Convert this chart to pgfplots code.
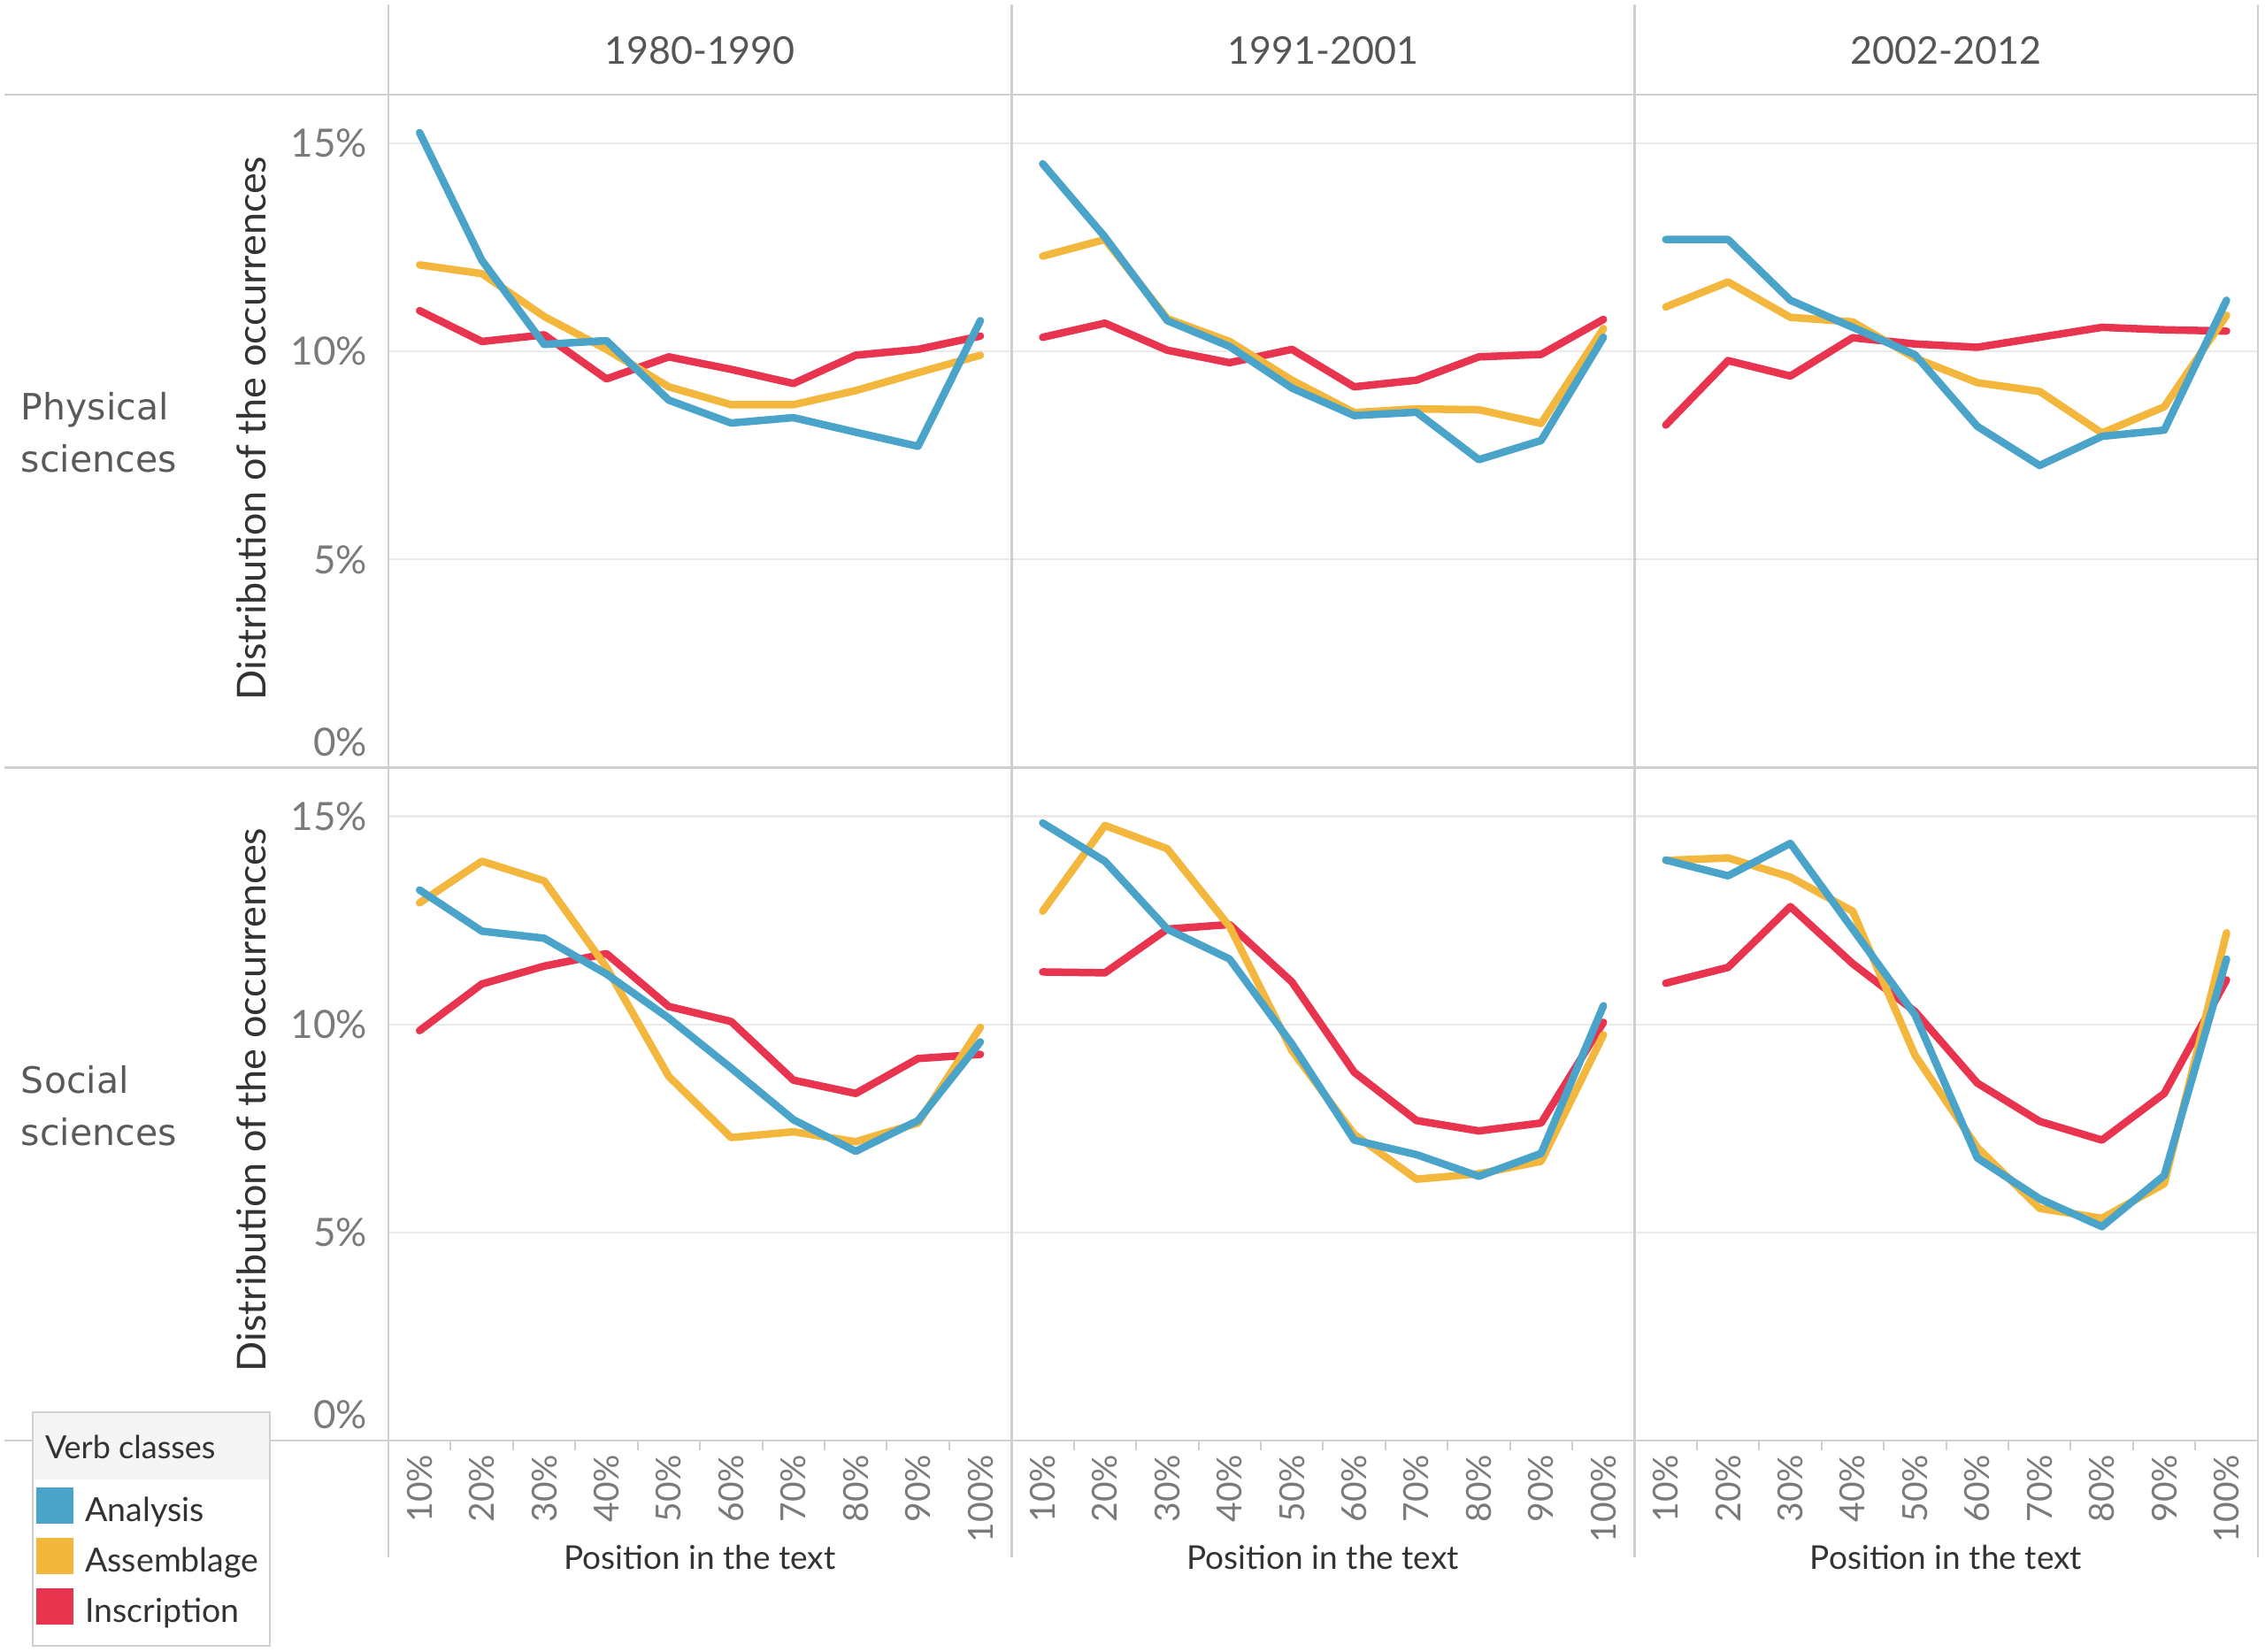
\documentclass[border=0pt]{standalone}
\usepackage{pgfplots}
\pgfplotsset{compat=1.18}
\usepackage{pgfplotstable}
\usepackage{fontspec}
\setmainfont{Lato}
\newfontfamily\rowfont{DejaVu Sans}

\definecolor{cA}{HTML}{4AA3C8}
\definecolor{cS}{HTML}{F4B73E}
\definecolor{cI}{HTML}{E8344E}
\definecolor{framec}{HTML}{D0D0D0}
\definecolor{gridc}{HTML}{EBEBEB}
\definecolor{tickc}{HTML}{7A7A7A}
\definecolor{headc}{HTML}{555555}
\definecolor{rowc}{HTML}{5A5A5A}
\definecolor{titc}{HTML}{333333}

% x = position (1 = 10%, ..., 10 = 100%); A = Analysis, S = Assemblage, I = Inscription
\pgfplotstableread{
x A S I
1 15.26 12.08 10.98
2 12.19 11.87 10.24
3 10.17 10.84 10.40
4 10.26 10.05 9.34
5 8.83 9.15 9.87
6 8.28 8.72 9.57
7 8.41 8.72 9.23
8 8.06 9.06 9.91
9 7.72 9.49 10.05
10 10.74 9.91 10.37
}\PA
\pgfplotstableread{
x A S I
1 14.51 12.29 10.34
2 12.75 12.69 10.68
3 10.74 10.79 10.03
4 10.12 10.24 9.73
5 9.12 9.31 10.05
6 8.46 8.53 9.15
7 8.54 8.62 9.31
8 7.40 8.60 9.87
9 7.86 8.27 9.93
10 10.34 10.55 10.77
}\PB
\pgfplotstableread{
x A S I
1 12.69 11.07 8.23
2 12.69 11.67 9.78
3 11.23 10.82 9.41
4 10.58 10.71 10.33
5 9.92 9.84 10.18
6 8.20 9.25 10.10
7 7.26 9.04 10.34
8 7.96 8.04 10.58
9 8.11 8.67 10.52
10 11.23 10.87 10.49
}\PC
\pgfplotstableread{
x A S I
1 13.23 12.92 9.85
2 12.24 13.92 10.97
3 12.07 13.45 11.40
4 11.21 11.37 11.70
5 10.15 8.75 10.43
6 8.95 7.28 10.07
7 7.71 7.42 8.66
8 6.95 7.18 8.34
9 7.69 7.63 9.18
10 9.58 9.93 9.28
}\SA
\pgfplotstableread{
x A S I
1 14.84 12.72 11.26
2 13.92 14.78 11.24
3 12.29 14.22 12.29
4 11.57 12.35 12.40
5 9.53 9.37 11.02
6 7.22 7.36 8.85
7 6.87 6.28 7.69
8 6.35 6.41 7.44
9 6.90 6.71 7.63
10 10.45 9.75 10.05
}\SB
\pgfplotstableread{
x A S I
1 13.95 13.94 10.99
2 13.57 14.00 11.37
3 14.35 13.54 12.83
4 12.29 12.72 11.46
5 10.23 9.26 10.31
6 6.79 7.04 8.59
7 5.81 5.58 7.67
8 5.14 5.34 7.22
9 6.37 6.17 8.34
10 11.57 12.20 11.07
}\SC

\pgfplotsset{
  panel/.style={
    scale only axis, width=140.85pt, height=152.1pt,
    xmin=0.5, xmax=10.5, ymin=0, ymax=16.17,
    axis line style={framec, line width=0.5pt},
    ytick={5,10,15}, yticklabels={},
    xtick={1,...,10}, xticklabels={},
    ymajorgrids, grid style={gridc, line width=0.45pt},
    major tick length=0pt, tick align=outside,
    xtick pos=bottom, ytick pos=left,
    every axis plot/.append style={line width=1.7pt, line join=round, line cap=round, mark=none},
  },
  leftcol/.style={
    yticklabels={5\%,10\%,15\%},
    extra y ticks={0.62}, extra y tick labels={0\%},
    extra tick style={grid=none, major tick length=0pt},
    yticklabel style={font=\fontsize{8.8}{10}\selectfont, text=tickc, anchor=east, inner xsep=4.6pt, inner ysep=0pt},
  },
  bottomrow/.style={
    xticklabels={10\%,20\%,30\%,40\%,50\%,60\%,70\%,80\%,90\%,100\%},
    xticklabel style={font=\fontsize{7.8}{9}\selectfont, text=tickc, rotate=90, anchor=east, inner xsep=3pt, inner ysep=0pt},
    minor xtick={1.5,2.5,...,9.5}, minor tick length=2.2pt,
    minor tick style={framec, line width=0.4pt},
  },
}

\newcommand{\threelines}[1]{%
  \addplot[cI] table[x=x, y=I] {#1};
  \addplot[cS] table[x=x, y=S] {#1};
  \addplot[cA] table[x=x, y=A] {#1};
}

\begin{document}
\begin{tikzpicture}
\useasboundingbox (0pt,0pt) rectangle (512pt,-373.2pt);

% separators
\draw[framec, line width=0.5pt] (1pt,-21.4pt) -- (510.6pt,-21.4pt);
\draw[framec, line width=0.5pt] (1pt,-173.5pt) -- (510.6pt,-173.5pt);
\draw[framec, line width=0.5pt] (1pt,-325.6pt) -- (510.6pt,-325.6pt);
\foreach \xx in {87.8,228.65,369.5,510.35}{
  \draw[framec, line width=0.5pt] (\xx pt,-1pt) -- (\xx pt,-352pt);
}

% column headers
\foreach \xx/\tt in {158.2/1980-1990, 299.05/1991-2001, 439.9/2002-2012}{
  \node[font=\fontsize{8.6}{10}\selectfont, text=headc] at (\xx pt,-11.4pt) {\tt};
}

% row headers
\node[anchor=west, align=left, inner sep=0pt, font=\rowfont\fontsize{8.2}{11.8}\selectfont, text=rowc] at (4.6pt,-97.7pt) {Physical\\sciences};
\node[anchor=west, align=left, inner sep=0pt, font=\rowfont\fontsize{8.2}{11.8}\selectfont, text=rowc] at (4.6pt,-249.9pt) {Social\\sciences};

% y titles
\node[rotate=90, inner sep=0pt, font=\fontsize{9}{10}\selectfont, text=titc] at (56.8pt,-96.8pt) {Distribution of the occurrences};
\node[rotate=90, inner sep=0pt, font=\fontsize{9}{10}\selectfont, text=titc] at (56.8pt,-248.6pt) {Distribution of the occurrences};

% x titles
\foreach \xx in {158.2, 299.05, 439.9}{
  \node[inner sep=0pt, font=\fontsize{7.4}{8}\selectfont, text=titc] at (\xx pt,-352pt) {Position in the text};
}

% legend frame and title band (entries come from the axis legend, drawn on top)
\fill[white] (7.4pt,-319.2pt) rectangle (61pt,-372pt);
\fill[gray!8] (7.4pt,-319.2pt) rectangle (61pt,-334.4pt);
\draw[framec, line width=0.5pt] (7.4pt,-319.2pt) rectangle (61pt,-372pt);
\node[anchor=west, inner sep=0pt, font=\fontsize{7.2}{8.5}\selectfont, text=titc] at (10pt,-327pt) {Verb classes};

% panels
\begin{axis}[panel, leftcol, at={(87.8pt,-21.4pt)}, anchor=north west]
\threelines{\PA}
\end{axis}
\begin{axis}[panel, at={(228.65pt,-21.4pt)}, anchor=north west]
\threelines{\PB}
\end{axis}
\begin{axis}[panel, at={(369.5pt,-21.4pt)}, anchor=north west]
\threelines{\PC}
\end{axis}
\begin{axis}[panel, leftcol, bottomrow, at={(87.8pt,-173.5pt)}, anchor=north west,
  legend style={at={(axis description cs:-0.571,-0.0578)}, anchor=north west,
    draw=none, fill=none, inner xsep=0.6pt, inner ysep=1.6pt,
    font=\fontsize{7.5}{9}\selectfont, text=titc, row sep=1.8pt,
    nodes={inner sep=0.5pt},
    /tikz/every odd column/.append style={column sep=2.2pt}},
  legend cell align=left,
  legend image code/.code={\fill[#1, draw=none] (0pt,-2.6pt) rectangle (8.4pt,5.6pt);},
  reverse legend]
\threelines{\SA}
\legend{Inscription, Assemblage, Analysis}
\end{axis}
\begin{axis}[panel, bottomrow, at={(228.65pt,-173.5pt)}, anchor=north west]
\threelines{\SB}
\end{axis}
\begin{axis}[panel, bottomrow, at={(369.5pt,-173.5pt)}, anchor=north west]
\threelines{\SC}
\end{axis}
\end{tikzpicture}
\end{document}
